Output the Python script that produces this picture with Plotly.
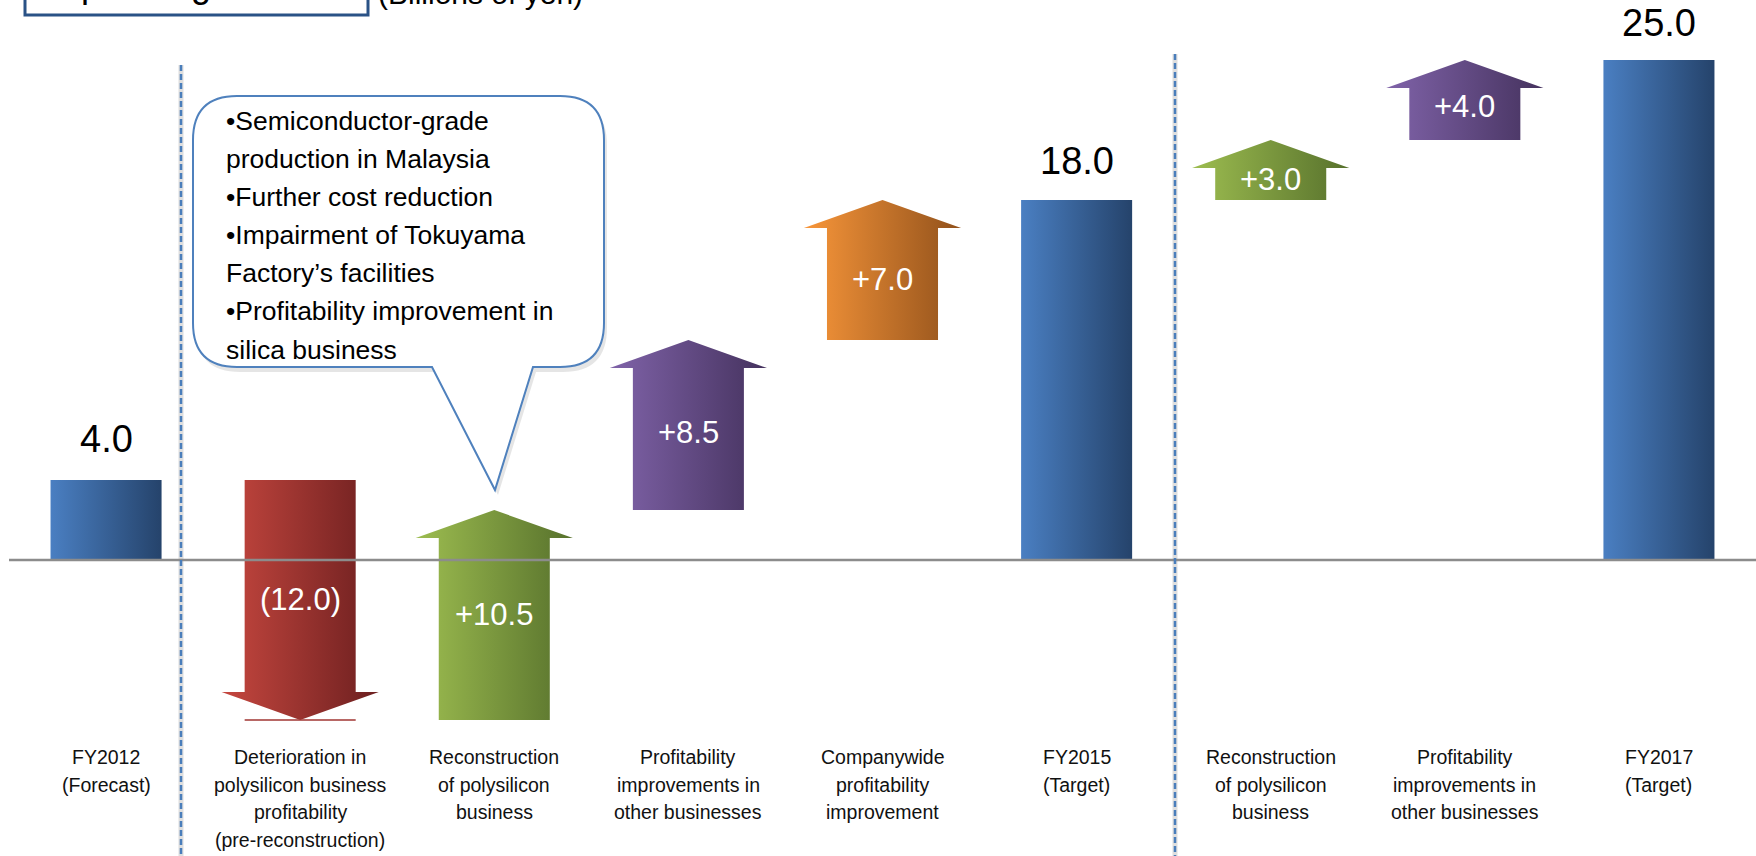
import plotly.graph_objects as go

# ---------------- data ----------------
categories = [
    ["FY2012", "(Forecast)"],
    ["Deterioration in", "polysilicon business", "profitability", "(pre-reconstruction)"],
    ["Reconstruction", "of polysilicon", "business"],
    ["Profitability", "improvements in", "other businesses"],
    ["Companywide", "profitability", "improvement"],
    ["FY2015", "(Target)"],
    ["Reconstruction", "of polysilicon", "business"],
    ["Profitability", "improvements in", "other businesses"],
    ["FY2017", "(Target)"],
]
kinds = ["total", "delta", "delta", "delta", "delta", "total", "delta", "delta", "total"]
values = [4.0, -12.0, 10.5, 8.5, 7.0, 18.0, 3.0, 4.0, 25.0]
value_labels = ["4.0", "(12.0)", "+10.5", "+8.5", "+7.0", "18.0", "+3.0", "+4.0", "25.0"]
bubble_lines = [
    "•Semiconductor-grade",
    "production in Malaysia",
    "•Further cost reduction",
    "•Impairment of Tokuyama",
    "Factory’s facilities",
    "•Profitability improvement in",
    "silica business",
]
box_title = "Operating Income"
unit_label = "(Billions of yen)"

# ---------------- styles / layout ----------------
PALETTE = {
    "blue": ("#4a7fc2", "#25436b"),
    "red": ("#c6473f", "#6c1f1f"),
    "green": ("#9dbd50", "#57712c"),
    "purple": ("#8063a9", "#45325e"),
    "orange": ("#f8963a", "#91511b"),
}
item_colors = ["blue", "red", "green", "purple", "orange", "blue", "green", "purple", "blue"]
# vertical nudge of the value labels (data units), layout only
label_nudge = [2.05, 0.05, 0.05, -0.35, -0.45, 1.95, -0.45, -0.3, 1.85]
SANS = "Liberation Sans, Arial, sans-serif"

W, H = 1756, 856
ML = 9
X_RANGE = [-0.5, 8.5]
Y_RANGE = [-14.8, 28.0]
BODY_W = 0.572
HEAD_W = 0.81
HEAD_H = 1.4


def px_x(p):  # pixel -> data x
    return X_RANGE[0] + (p - ML) / (W - ML) * (X_RANGE[1] - X_RANGE[0])


def px_y(p):  # pixel -> data y
    return Y_RANGE[1] - p / H * (Y_RANGE[1] - Y_RANGE[0])


def pap_x(p):
    return (p - ML) / (W - ML)


def pap_y(p):
    return 1 - p / H


fig = go.Figure()

# waterfall geometry from values
run = 0.0
starts, ends = [], []
for k, v in zip(kinds, values):
    if k == "total":
        s, e = 0.0, v
        run = v
    else:
        s, e = run, run + v
        run = e
    starts.append(s)
    ends.append(e)

for i, (k, s, e, c) in enumerate(zip(kinds, starts, ends, item_colors)):
    c0, c1 = PALETTE[c]
    bl, br = i - BODY_W / 2, i + BODY_W / 2
    hl, hr = i - HEAD_W / 2, i + HEAD_W / 2
    if k == "total":
        xs = [bl, br, br, bl, bl]
        ys = [s, s, e, e, s]
        g0, g1 = bl, br
    else:
        nb = e - HEAD_H if e > s else e + HEAD_H
        xs = [bl, br, br, hr, i, hl, bl, bl]
        ys = [s, s, nb, nb, e, nb, nb, s]
        g0, g1 = hl, hr
    fig.add_trace(go.Scatter(
        x=xs, y=ys, mode="lines", fill="toself",
        line=dict(width=0, color=c1),
        fillgradient=dict(type="horizontal", colorscale=[[0, c0], [1, c1]], start=g0, stop=g1),
        hoverinfo="skip", showlegend=False,
    ))
    if k == "delta" and e < s:
        fig.add_trace(go.Scatter(
            x=[bl, br], y=[e, e], mode="lines",
            line=dict(width=1.5, color="#a03532"),
            hoverinfo="skip", showlegend=False,
        ))

# value labels
for i, (k, s, e, lab) in enumerate(zip(kinds, starts, ends, value_labels)):
    if k == "total":
        fig.add_annotation(x=i, y=e + label_nudge[i], xref="x", yref="y", text=lab,
                           showarrow=False, font=dict(family=SANS, size=38, color="#000000"))
    else:
        fig.add_annotation(x=i, y=(s + e) / 2 + label_nudge[i], xref="x", yref="y", text=lab,
                           showarrow=False, font=dict(family=SANS, size=31, color="#ffffff"))

# category labels
for i, lines in enumerate(categories):
    for j, ln in enumerate(lines):
        fig.add_annotation(x=i, y=pap_y(757 + 27.6 * j), xref="x", yref="paper", text=ln,
                           showarrow=False, yanchor="middle",
                           font=dict(family=SANS, size=19.5, color="#111111"))

shapes = []
# zero line
shapes.append(dict(type="line", xref="paper", yref="y", x0=0, x1=1, y0=0, y1=0,
                   line=dict(color="#8c8c8c", width=2.5), layer="above"))
# dividers
for xpx, ytop in [(181, 65), (1175, 54)]:
    shapes.append(dict(type="line", xref="x", yref="paper", x0=px_x(xpx), x1=px_x(xpx),
                       y0=pap_y(ytop), y1=0,
                       line=dict(color="#dedede", width=5), layer="below"))
    shapes.append(dict(type="line", xref="x", yref="paper", x0=px_x(xpx), x1=px_x(xpx),
                       y0=pap_y(ytop), y1=0,
                       line=dict(color="#4a7ebb", width=2.5, dash="6px,3px"), layer="above"))


# callout bubble
def bubble_path(dx=0, dy=0):
    L, R, T, B, r = 193 + dx, 604 + dx, 96 + dy, 367 + dy, 44
    tl, tr, tip = 432 + dx, 533 + dx, (495 + dx, 490 + dy)

    def P(x, y):
        return f"{px_x(x)},{px_y(y)}"
    return (f"M {P(L + r, T)} L {P(R - r, T)} Q {P(R, T)} {P(R, T + r)} "
            f"L {P(R, B - r)} Q {P(R, B)} {P(R - r, B)} L {P(tr, B)} L {P(*tip)} L {P(tl, B)} "
            f"L {P(L + r, B)} Q {P(L, B)} {P(L, B - r)} L {P(L, T + r)} Q {P(L, T)} {P(L + r, T)} Z")


shapes.append(dict(type="path", xref="x", yref="y", path=bubble_path(3, 5),
                   fillcolor="rgba(0,0,0,0.10)", line=dict(width=0), layer="above"))
shapes.append(dict(type="path", xref="x", yref="y", path=bubble_path(),
                   fillcolor="#ffffff", line=dict(color="#4f81bd", width=2), layer="above"))

# top-left title box (cut off at top)
shapes.append(dict(type="rect", xref="paper", yref="paper",
                   x0=pap_x(25), x1=pap_x(368), y0=pap_y(15), y1=pap_y(-30),
                   line=dict(color="#2a5286", width=3), fillcolor="rgba(0,0,0,0)"))

for j, ln in enumerate(bubble_lines):
    fig.add_annotation(x=pap_x(224), y=pap_y(121 + 38.1 * j), xref="paper", yref="paper",
                       text=ln, showarrow=False, xanchor="left", yanchor="middle",
                       font=dict(family=SANS, size=26.5, color="#000000"))

fig.add_annotation(x=pap_x(196), y=pap_y(-15), xref="paper", yref="paper", text=box_title,
                   showarrow=False, xanchor="center", yanchor="middle",
                   font=dict(family=SANS, size=36, color="#000000"))
fig.add_annotation(x=pap_x(376), y=pap_y(-7), xref="paper", yref="paper", text=unit_label,
                   showarrow=False, xanchor="left", yanchor="middle",
                   font=dict(family=SANS, size=30, color="#000000"))

fig.update_layout(
    width=W, height=H,
    margin=dict(l=ML, r=0, t=0, b=0),
    paper_bgcolor="#ffffff", plot_bgcolor="#ffffff",
    shapes=shapes,
    showlegend=False,
    xaxis=dict(range=X_RANGE, visible=False, fixedrange=True),
    yaxis=dict(range=Y_RANGE, visible=False, fixedrange=True),
)

fig.write_html("out.html", config={"displayModeBar": False},
               post_script="document.body.style.margin='0px';document.body.style.overflow='hidden';")
